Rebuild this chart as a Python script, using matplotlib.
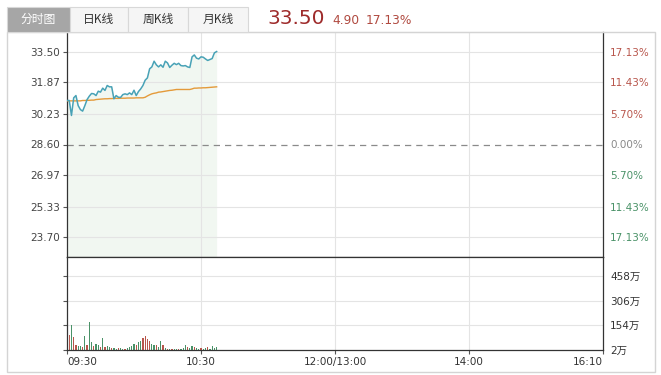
import numpy as np
import matplotlib
matplotlib.use("Agg")
import matplotlib.pyplot as plt
from matplotlib.patches import Rectangle

plt.rcParams['font.family'] = ['DejaVu Sans', 'Noto Sans CJK SC']

W, H = 661, 375

prev_close = 28.60
# minute prices from 09:30
price = [30.92, 30.92, 30.13, 31.06, 31.18, 30.65, 30.44, 30.36, 30.65, 30.97,
         31.15, 31.29, 31.27, 31.18, 31.41, 31.36, 31.57, 31.45, 31.71, 31.64,
         31.64, 31.01, 31.18, 31.09, 31.08, 31.23, 31.27, 31.23, 31.32, 31.23,
         31.46, 31.18, 31.39, 31.53, 31.71, 31.99, 32.11, 32.59, 32.69, 32.99,
         32.80, 32.69, 32.80, 32.67, 32.99, 32.90, 32.66, 32.78, 32.88, 32.81,
         32.88, 32.76, 32.74, 32.76, 32.69, 32.66, 33.22, 33.32, 33.15, 33.11,
         33.22, 33.20, 33.11, 33.03, 33.08, 33.13, 33.43, 33.50]
avg_price = [30.90, 30.90, 30.90, 30.90, 30.90, 30.90, 30.90, 30.92, 30.92, 30.93,
             30.93, 30.94, 30.94, 30.97, 30.98, 30.99, 31.00, 31.01, 31.01, 31.02,
             31.02, 31.03, 31.03, 31.03, 31.04, 31.04, 31.04, 31.05, 31.05, 31.05,
             31.05, 31.06, 31.06, 31.06, 31.06, 31.09, 31.16, 31.22, 31.27, 31.30,
             31.32, 31.36, 31.37, 31.39, 31.41, 31.43, 31.45, 31.46, 31.48, 31.50,
             31.50, 31.50, 31.50, 31.50, 31.50, 31.50, 31.53, 31.57, 31.57, 31.58,
             31.58, 31.59, 31.59, 31.60, 31.61, 31.62, 31.63, 31.64]
# volume in 万, up=1 red / 0 green
volume = [186, 94, 156, 84, 30, 25, 28, 20, 88, 30,
          176, 49, 25, 40, 30, 20, 76, 20, 28, 18,
          15, 12, 10, 14, 12, 8, 10, 12, 18, 25,
          38, 30, 50, 60, 75, 90, 70, 55, 40, 30,
          35, 20, 55, 35, 12, 10, 8, 10, 6, 8,
          6, 10, 12, 35, 20, 15, 28, 18, 12, 10,
          14, 8, 12, 18, 10, 25, 12, 22]
up = [1, 1, 0, 1, 1, 0, 0, 1, 0, 1,
      0, 0, 1, 0, 0, 1, 0, 1, 0, 0,
      1, 0, 0, 1, 0, 0, 1, 0, 0, 0,
      0, 1, 0, 0, 1, 1, 1, 1, 0, 0,
      1, 0, 0, 1, 0, 1, 0, 1, 0, 0,
      1, 0, 0, 0, 1, 0, 0, 1, 0, 0,
      1, 0, 0, 1, 0, 0, 0, 0]

price_ticks = [23.70, 25.33, 26.97, 28.60, 30.23, 31.87, 33.50]
pct_labels = ["17.13%", "11.43%", "5.70%", "0.00%", "5.70%", "11.43%", "17.13%"]
vol_ticks = [2, 154, 306, 458]
vol_labels = ["2万", "154万", "306万", "458万"]
time_pos = [0, 60, 120, 180, 240]
time_labels = ["09:30", "10:30", "12:00/13:00", "14:00", "16:10"]
tabs = ["分时图", "日K线", "周K线", "月K线"]
last_price, change, change_pct = "33.50", "4.90", "17.13%"

RED = "#b8564c"
GREEN = "#4a9268"
GRID = "#e4e4e4"


def fx(x):
    return x / W


def fy(y):
    return 1 - y / H


fig = plt.figure(figsize=(W / 100, H / 100), dpi=100)
fig.patch.set_facecolor("white")

# outer frame
fig.add_artist(Rectangle((fx(7), fy(372)), fx(655) - fx(7), fy(32) - fy(372),
                         transform=fig.transFigure, fill=False, ec="#d4d4d4", lw=1))

# tabs
tab_x = [7, 70, 128, 188, 248]
for i, t in enumerate(tabs):
    x0, x1 = tab_x[i], tab_x[i + 1]
    fc = "#a6a6a6" if i == 0 else "#f5f5f5"
    fig.add_artist(Rectangle((fx(x0), fy(32)), fx(x1) - fx(x0), fy(7) - fy(32),
                             transform=fig.transFigure, fc=fc, ec="#d8d8d8", lw=0.8))
    fig.text(fx((x0 + x1) / 2), fy(19.5), t, ha="center", va="center", fontsize=8.5,
             color="white" if i == 0 else "#333333", family=['Noto Sans CJK SC'])

fig.text(fx(267), fy(19), last_price, fontsize=14.5, color="#9e2b2b", ha="left", va="center")
fig.text(fx(332), fy(20), change, fontsize=8.8, color="#b04a40", ha="left", va="center")
fig.text(fx(366), fy(20), change_pct, fontsize=8.8, color="#b04a40", ha="left", va="center")

x = np.arange(len(price))

# price panel
ax = fig.add_axes([fx(67), fy(257), fx(603) - fx(67), fy(32) - fy(257)])
ax.set_xlim(0, 240)
ax.set_ylim(22.67, 34.53)
ax.fill_between(x, price, 22.67, color="#f1f7f1", lw=0, zorder=0.5)
for v in price_ticks:
    if v != prev_close:
        ax.axhline(v, color=GRID, lw=0.8, zorder=1)
for v in time_pos[1:-1]:
    ax.axvline(v, color=GRID, lw=0.8, zorder=1)
ax.axhline(prev_close, color="#8a8a8a", lw=0.9, ls=(0, (5, 4)), zorder=2)
ax.plot(x, avg_price, color="#e49a3a", lw=1.0, zorder=3)
ax.plot(x, price, color="#48a2b6", lw=1.1, zorder=4)
ax.set_yticks(price_ticks)
ax.set_yticklabels([f"{v:.2f}" for v in price_ticks])
ax.set_xticks([])
ax.tick_params(axis="y", length=3, width=0.8, color="#555555", labelsize=7.5,
               labelcolor="#444444", pad=2)
for s in ["left", "right", "bottom"]:
    ax.spines[s].set_color("#333333")
    ax.spines[s].set_linewidth(0.9)
ax.spines["top"].set_color("#d4d4d4")

ax2 = ax.twinx()
ax2.set_ylim(ax.get_ylim())
ax2.set_yticks(price_ticks)
ax2.set_yticklabels(pct_labels)
ax2.tick_params(axis="y", length=0, labelsize=7.5, pad=5)
for i, lab in enumerate(ax2.get_yticklabels()):
    lab.set_color(GREEN if i < 3 else ("#888888" if i == 3 else RED))
for s in ax2.spines.values():
    s.set_visible(False)

# volume panel
axv = fig.add_axes([fx(67), fy(350), fx(603) - fx(67), fy(257) - fy(350)])
axv.set_xlim(0, 240)
vmax = 2 + 93 / 24.7 * 152
axv.set_ylim(2, vmax)
for v in vol_ticks[1:]:
    axv.axhline(v, color=GRID, lw=0.8, zorder=0)
for v in time_pos[1:-1]:
    axv.axvline(v, color=GRID, lw=0.8, zorder=0)
colors = [RED if u else GREEN for u in up]
axv.bar(x, volume, width=0.55, color=colors, bottom=0, zorder=2)
axv.set_yticks(vol_ticks)
axv.set_yticklabels([])
axv.tick_params(axis="y", length=3, width=0.8, color="#555555")
axv.set_xticks(time_pos)
axv.set_xticklabels(time_labels)
axv.tick_params(axis="x", length=3, width=0.8, color="#555555", labelsize=7.5,
                labelcolor="#333333", pad=2)
xl = axv.get_xticklabels()
xl[0].set_ha("left")
xl[-1].set_ha("right")
for s in ["left", "right", "bottom", "top"]:
    axv.spines[s].set_color("#333333")
    axv.spines[s].set_linewidth(0.9)

axv2 = axv.twinx()
axv2.set_ylim(axv.get_ylim())
axv2.set_yticks(vol_ticks)
axv2.set_yticklabels(vol_labels)
axv2.tick_params(axis="y", length=0, labelsize=7.5, labelcolor="#333333", pad=5)
for s in axv2.spines.values():
    s.set_visible(False)

fig.savefig("out.png", dpi=100)
